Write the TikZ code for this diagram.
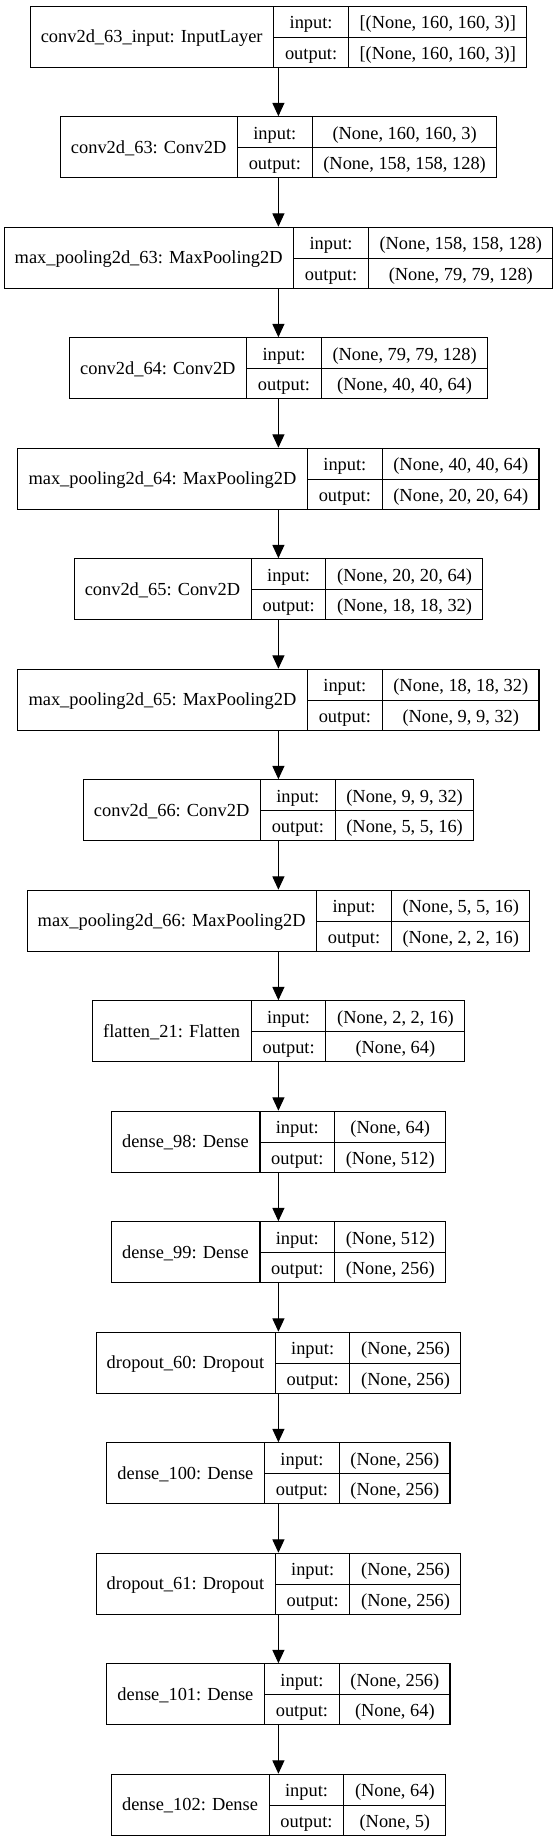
\documentclass[tikz,border=0pt]{standalone}
\usepackage{fontspec}
\setmainfont{Liberation Serif}
\usepackage{array}
\usetikzlibrary{positioning,arrows.meta}
\setlength{\tabcolsep}{10.67pt}
\setlength{\arrayrulewidth}{1.1pt}
\newcommand{\rowstrut}{\rule[-8pt]{0pt}{30.5pt}}
\newcommand{\layertab}[3]{%
  \begin{tabular}{c|c|c}
    \rowstrut & input: & #2\\ \cline{2-3}
    \rowstrut\raisebox{16.5pt}[0pt][0pt]{#1} & output: & #3
  \end{tabular}}
\tikzset{layer/.style = {draw,line width=1.1pt,inner sep=0pt,anchor=north,
    font=\fontsize{18.4}{22}\selectfont},
  edge/.style = {-{Triangle[length=13.3pt,width=12pt]},line width=1.1pt}}

\begin{document}
\begin{tikzpicture}[x=1pt,y=1pt]
  \useasboundingbox (0,0) rectangle (557,-1844);
  \node[layer] (L1)  at (278.4,   -5.7) {\layertab{conv2d\_63\_input: InputLayer}{[(None, 160, 160, 3)]}{[(None, 160, 160, 3)]}};
  \node[layer] (L2)  at (278.4, -116.2) {\layertab{conv2d\_63: Conv2D}{(None, 160, 160, 3)}{(None, 158, 158, 128)}};
  \node[layer] (L3)  at (278.4, -226.7) {\layertab{max\_pooling2d\_63: MaxPooling2D}{(None, 158, 158, 128)}{(None, 79, 79, 128)}};
  \node[layer] (L4)  at (278.4, -337.2) {\layertab{conv2d\_64: Conv2D}{(None, 79, 79, 128)}{(None, 40, 40, 64)}};
  \node[layer] (L5)  at (278.4, -447.7) {\layertab{max\_pooling2d\_64: MaxPooling2D}{(None, 40, 40, 64)}{(None, 20, 20, 64)}};
  \node[layer] (L6)  at (278.4, -558.2) {\layertab{conv2d\_65: Conv2D}{(None, 20, 20, 64)}{(None, 18, 18, 32)}};
  \node[layer] (L7)  at (278.4, -668.7) {\layertab{max\_pooling2d\_65: MaxPooling2D}{(None, 18, 18, 32)}{(None, 9, 9, 32)}};
  \node[layer] (L8)  at (278.4, -779.2) {\layertab{conv2d\_66: Conv2D}{(None, 9, 9, 32)}{(None, 5, 5, 16)}};
  \node[layer] (L9)  at (278.4, -889.7) {\layertab{max\_pooling2d\_66: MaxPooling2D}{(None, 5, 5, 16)}{(None, 2, 2, 16)}};
  \node[layer] (L10) at (278.4,-1000.2) {\layertab{flatten\_21: Flatten}{(None, 2, 2, 16)}{(None, 64)}};
  \node[layer] (L11) at (278.4,-1110.7) {\layertab{dense\_98: Dense}{(None, 64)}{(None, 512)}};
  \node[layer] (L12) at (278.4,-1221.2) {\layertab{dense\_99: Dense}{(None, 512)}{(None, 256)}};
  \node[layer] (L13) at (278.4,-1331.7) {\layertab{dropout\_60: Dropout}{(None, 256)}{(None, 256)}};
  \node[layer] (L14) at (278.4,-1442.2) {\layertab{dense\_100: Dense}{(None, 256)}{(None, 256)}};
  \node[layer] (L15) at (278.4,-1552.7) {\layertab{dropout\_61: Dropout}{(None, 256)}{(None, 256)}};
  \node[layer] (L16) at (278.4,-1663.2) {\layertab{dense\_101: Dense}{(None, 256)}{(None, 64)}};
  \node[layer] (L17) at (278.4,-1773.7) {\layertab{dense\_102: Dense}{(None, 64)}{(None, 5)}};
  \draw[edge] (L1)  -- (L2);
  \draw[edge] (L2)  -- (L3);
  \draw[edge] (L3)  -- (L4);
  \draw[edge] (L4)  -- (L5);
  \draw[edge] (L5)  -- (L6);
  \draw[edge] (L6)  -- (L7);
  \draw[edge] (L7)  -- (L8);
  \draw[edge] (L8)  -- (L9);
  \draw[edge] (L9)  -- (L10);
  \draw[edge] (L10) -- (L11);
  \draw[edge] (L11) -- (L12);
  \draw[edge] (L12) -- (L13);
  \draw[edge] (L13) -- (L14);
  \draw[edge] (L14) -- (L15);
  \draw[edge] (L15) -- (L16);
  \draw[edge] (L16) -- (L17);
\end{tikzpicture}
\end{document}
